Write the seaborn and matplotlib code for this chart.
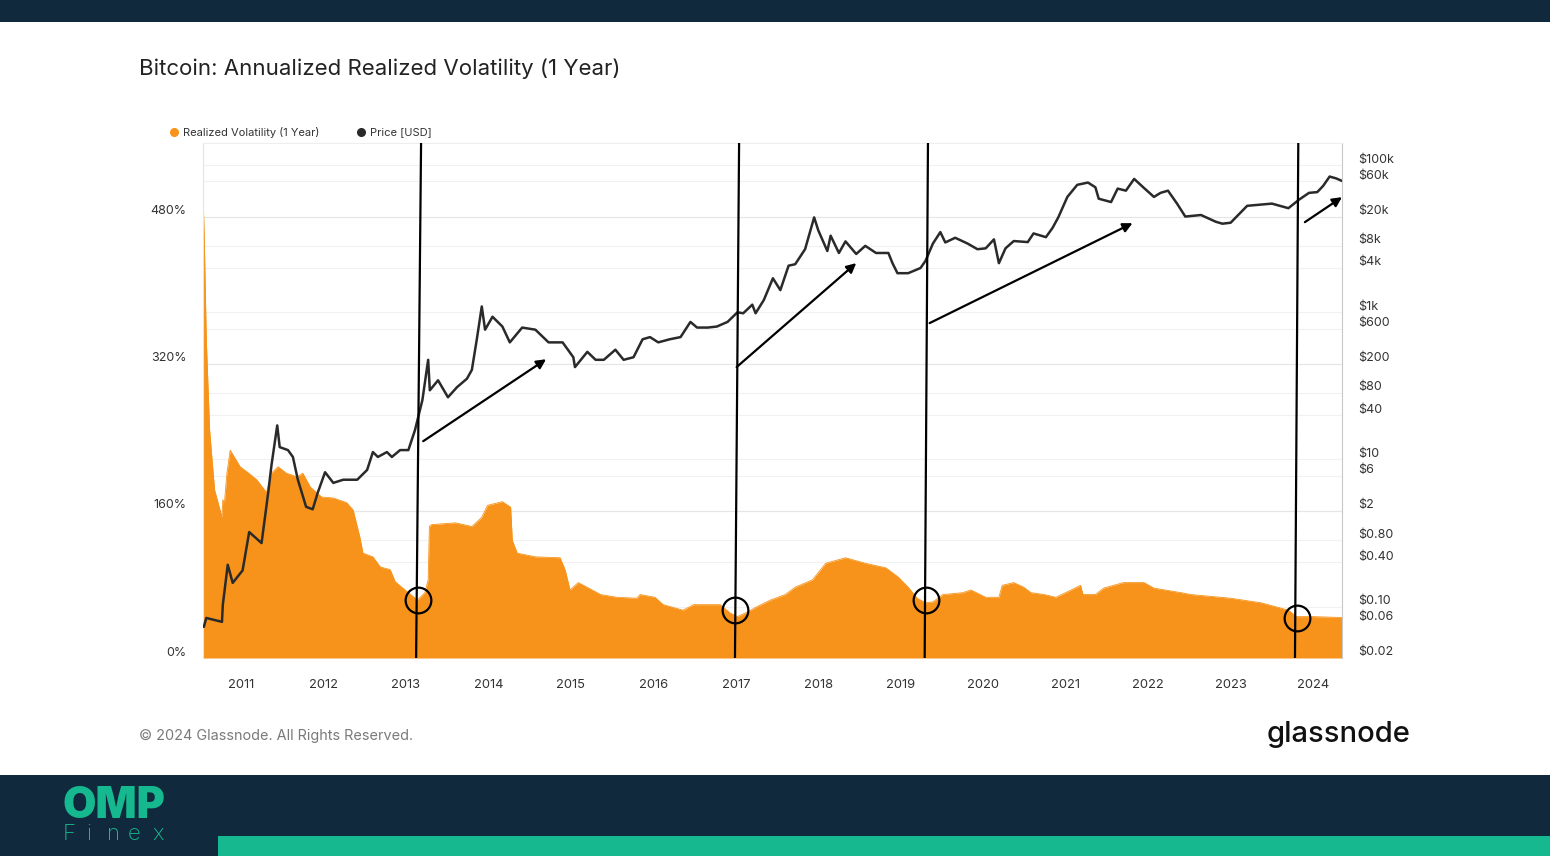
import matplotlib
matplotlib.use('Agg')
import matplotlib.pyplot as plt
import matplotlib.transforms as mtransforms
from matplotlib.lines import Line2D
from matplotlib.patches import Rectangle
from matplotlib.ticker import NullLocator
import seaborn as sns

sns.set_style('white')
plt.rcParams['font.family'] = ['Inter', 'DejaVu Sans']

# realized volatility (1y), decimal year -> percent
vol_year = [2010.54, 2010.555, 2010.58, 2010.62, 2010.68, 2010.77, 2010.78, 2010.80, 2010.83, 2010.87,
            2010.99, 2011.08, 2011.19, 2011.31, 2011.37, 2011.45, 2011.55, 2011.68, 2011.75, 2011.84,
            2011.98, 2012.12, 2012.28, 2012.36, 2012.44, 2012.48, 2012.60, 2012.69, 2012.81, 2012.87,
            2012.99, 2013.14, 2013.23, 2013.27, 2013.285, 2013.31, 2013.60, 2013.80, 2013.92, 2013.99,
            2014.17, 2014.27, 2014.29, 2014.35, 2014.57, 2014.87, 2014.93, 2014.99, 2015.09, 2015.30,
            2015.36, 2015.56, 2015.80, 2015.84, 2016.02, 2016.12, 2016.36, 2016.49, 2016.81, 2016.93,
            2017.02, 2017.14, 2017.26, 2017.42, 2017.60, 2017.72, 2017.93, 2018.09, 2018.33, 2018.57,
            2018.82, 2018.97, 2019.09, 2019.20, 2019.30, 2019.39, 2019.51, 2019.75, 2019.85, 2020.03,
            2020.19, 2020.23, 2020.37, 2020.49, 2020.58, 2020.74, 2020.88, 2021.02, 2021.18, 2021.21,
            2021.36, 2021.46, 2021.70, 2021.95, 2022.07, 2022.40, 2022.52, 2023.00, 2023.37, 2023.70,
            2023.80, 2024.00, 2024.35]
vol_pct = [505, 458, 346, 248, 183, 153, 172, 169, 201, 226,
           208, 202, 194, 180, 201, 208, 201, 197, 201, 186,
           175, 174, 169, 161, 132, 114, 110, 99, 96, 83,
           74, 63, 71, 85, 143, 145, 147, 143, 153, 166,
           170, 164, 128, 114, 110, 109, 96, 74, 82, 72,
           69, 66, 65, 69, 66, 58, 52, 58, 58, 49,
           45, 50, 56, 63, 69, 77, 85, 103, 109, 103,
           98, 88, 77, 65, 60, 61, 69, 71, 74, 66,
           66, 79, 82, 77, 71, 69, 66, 72, 79, 69,
           69, 76, 82, 82, 76, 71, 69, 65, 60, 52,
           45, 45, 44]

# price [USD], log scale
price_year = [2010.55, 2010.58, 2010.77, 2010.78, 2010.84, 2010.90, 2011.02, 2011.10, 2011.25, 2011.33,
              2011.37, 2011.44, 2011.47, 2011.57, 2011.63, 2011.69, 2011.79, 2011.87, 2011.93, 2012.02,
              2012.12, 2012.24, 2012.41, 2012.53, 2012.60, 2012.66, 2012.77, 2012.83, 2012.93, 2013.03,
              2013.11, 2013.20, 2013.27, 2013.29, 2013.39, 2013.51, 2013.62, 2013.74, 2013.80, 2013.86,
              2013.92, 2013.96, 2014.05, 2014.17, 2014.26, 2014.41, 2014.57, 2014.73, 2014.90, 2015.03,
              2015.05, 2015.20, 2015.30, 2015.40, 2015.54, 2015.64, 2015.76, 2015.87, 2015.96, 2016.06,
              2016.20, 2016.33, 2016.45, 2016.53, 2016.66, 2016.77, 2016.90, 2017.02, 2017.09, 2017.20,
              2017.24, 2017.34, 2017.45, 2017.54, 2017.64, 2017.72, 2017.84, 2017.95, 2018.00, 2018.11,
              2018.15, 2018.25, 2018.33, 2018.46, 2018.57, 2018.70, 2018.85, 2018.90, 2018.96, 2019.09,
              2019.24, 2019.30, 2019.39, 2019.48, 2019.54, 2019.66, 2019.81, 2019.93, 2020.03, 2020.13,
              2020.19, 2020.27, 2020.37, 2020.54, 2020.61, 2020.76, 2020.84, 2020.91, 2021.02, 2021.14,
              2021.27, 2021.36, 2021.40, 2021.55, 2021.63, 2021.73, 2021.83, 2021.94, 2022.07, 2022.15,
              2022.24, 2022.35, 2022.45, 2022.64, 2022.82, 2022.90, 2023.00, 2023.20, 2023.50, 2023.70,
              2023.83, 2023.95, 2024.05, 2024.12, 2024.20, 2024.28, 2024.35]
price_usd = [0.053, 0.07, 0.062, 0.105, 0.37, 0.21, 0.31, 1.03, 0.73, 3.5,
             8.3, 29, 14.7, 13.4, 10.8, 5.3, 2.27, 2.1, 3.5, 6.7,
             4.8, 5.3, 5.3, 7.2, 12.6, 10.8, 12.6, 10.8, 13.4, 13.4,
             25, 64, 226, 87, 119, 70, 96, 125, 165, 430,
             1200, 580, 870, 640, 390, 620, 580, 390, 390, 245,
             180, 290, 226, 226, 310, 226, 245, 430, 460, 390,
             430, 460, 740, 620, 620, 640, 740, 1000, 970, 1270,
             970, 1470, 2900, 2000, 4300, 4500, 7200, 19500, 13000, 6800,
             11000, 6400, 9200, 6200, 8000, 6400, 6400, 4650, 3400, 3400,
             4000, 5000, 8600, 12300, 8900, 10300, 8600, 7200, 7400, 9800,
             4650, 7400, 9300, 9000, 11800, 10500, 14000, 19500, 37000, 54000,
             58000, 50000, 35000, 31500, 48000, 45000, 65000, 50000, 37000, 42000,
             45000, 30000, 20000, 21000, 17000, 16000, 16500, 28000, 30000, 26000,
             34000, 42000, 43000, 52000, 70000, 66000, 61000]

year_ticks = list(range(2011, 2025))
vol_ticks = [0, 160, 320, 480]
price_ticks = [0.02, 0.06, 0.1, 0.4, 0.8, 2, 6, 10, 40, 80, 200, 600, 1000, 4000, 8000, 20000, 60000, 100000]
price_labels = ['$0.02', '$0.06', '$0.10', '$0.40', '$0.80', '$2', '$6', '$10', '$40', '$80',
                '$200', '$600', '$1k', '$4k', '$8k', '$20k', '$60k', '$100k']

# hand-drawn annotations: halving lines (top x, bottom x), circles (x, vol), arrows (start, end) in price coords
halving_lines = [(2013.184, 2013.124), (2017.04, 2016.99), (2019.33, 2019.29), (2023.82, 2023.78)]
circles = [(2013.15, 63), (2016.99, 52), (2019.31, 63), (2023.80, 43.5)]
arrows = [((2013.21, 17.7), (2014.70, 230)),
          ((2017.01, 180), (2018.46, 4660)),
          ((2019.35, 713), (2021.81, 16260)),
          ((2023.90, 16800), (2024.35, 36700))]

orange = '#f7931a'
dark = '#2a2a2a'
navy = '#11293d'
teal = '#16b98f'

W, H = 1550, 856
fig = plt.figure(figsize=(W / 100, H / 100), dpi=100)
fig.patch.set_facecolor('white')

# page bands
fig.add_artist(Rectangle((0, 1 - 22 / H), 1, 22 / H, transform=fig.transFigure, color=navy, lw=0))
fig.add_artist(Rectangle((0, 0), 1, 81 / H, transform=fig.transFigure, color=navy, lw=0))
fig.add_artist(Rectangle((218 / W, 0), 1 - 218 / W, 20 / H, transform=fig.transFigure, color=teal, lw=0))

ax = fig.add_axes([203 / W, 1 - 658 / H, (1342 - 203) / W, (658 - 143) / H])
ax2 = ax.twinx()

ax.set_xlim(2010.54, 2024.35)
ax.set_ylim(0, 560)
ax2.set_yscale('log')
ax2.set_ylim(0.02, 200000)

# grid lines (under the area)
blend = mtransforms.blended_transform_factory(ax.transAxes, ax2.transData)
for p in price_ticks:
    ax.plot([0, 1], [p, p], transform=blend, color='#f1f1f1', lw=0.8, zorder=0)
for v in vol_ticks[1:]:
    ax.axhline(v, color='#e6e6e6', lw=0.8, zorder=0)

ax.fill_between(vol_year, vol_pct, 0, color=orange, lw=0, zorder=2)
sns.lineplot(x=vol_year, y=vol_pct, ax=ax, color=orange, lw=0.6, zorder=2)

sns.lineplot(x=price_year, y=price_usd, ax=ax2, color=dark, lw=1.8, zorder=3)

for (xt, xb) in halving_lines:
    ax2.plot([xt, xb], [1, 0], transform=ax2.get_xaxis_transform(), color='black', lw=1.6, zorder=5)
for (cx, cv) in circles:
    ax2.add_line(Line2D([cx], [cv], transform=ax.transData, marker='o', ms=18.5, mfc='none',
                        mec='black', mew=1.6, ls='none', zorder=6))
for (s, e) in arrows:
    ax2.annotate('', xy=e, xytext=s,
                 arrowprops=dict(arrowstyle='-|>', color='black', lw=1.6, mutation_scale=14,
                                 shrinkA=0, shrinkB=0), zorder=6)

ax2.set_xlim(2010.54, 2024.35)
ax2.set_ylim(0.02, 200000)

# ticks
ax.set_xticks(year_ticks, labels=[str(y) for y in year_ticks])
ax.set_yticks(vol_ticks, labels=[f'{v}%' for v in vol_ticks])
ax2.set_yticks(price_ticks, labels=price_labels)
ax2.yaxis.set_minor_locator(NullLocator())
ax.tick_params(axis='x', length=0, pad=15, labelsize=9.3, labelcolor='#333333')
ax.tick_params(axis='y', length=0, pad=12, labelsize=9, labelcolor='#333333')
ax2.tick_params(axis='y', length=0, pad=12, labelsize=9, labelcolor='#333333')
ax.set_xlabel('')
ax.set_ylabel('')
ax2.set_ylabel('')
up = mtransforms.ScaledTranslation(0, 7 / 100, fig.dpi_scale_trans)
for lab in ax.get_yticklabels() + ax2.get_yticklabels():
    lab.set_transform(lab.get_transform() + up)

for sp in ax2.spines.values():
    sp.set_visible(False)
ax.spines['left'].set_color('#e4e4e4')
ax.spines['top'].set_color('#eeeeee')
ax.spines['right'].set_color('#c8c8c8')
ax.spines['bottom'].set_visible(False)
for sp in ax.spines.values():
    sp.set_linewidth(0.8)

# legend
handles = [Line2D([], [], marker='o', ls='none', color=orange, ms=5.5),
           Line2D([], [], marker='o', ls='none', color=dark, ms=5.5)]
fig.legend(handles, ['Realized Volatility (1 Year)', 'Price [USD]'], loc='center left',
           bbox_to_anchor=(170 / W, 1 - 132 / H), ncol=2, frameon=False, fontsize=8,
           handlelength=0.7, handletextpad=0.45, columnspacing=3.4, borderpad=0, borderaxespad=0,
           labelcolor='#333333')

fig.text(139 / W, 1 - 69 / H, 'Bitcoin: Annualized Realized Volatility (1 Year)', fontsize=16,
         color='#222222', va='center')
fig.text(139 / W, 1 - 736 / H, '© 2024 Glassnode. All Rights Reserved.', fontsize=10.4,
         color='#7a7a7a', va='center')
fig.text(1411 / W, 1 - 735 / H, 'glassnode', fontsize=21, weight='medium', color='#111111',
         ha='right', va='center')

# OMP Finex logo
fig.text(62 / W, 1 - 806 / H, 'OMP', fontsize=31, weight='black', color=teal, va='center')
for ch, lx in zip('Finex', [63, 86, 107, 128, 152]):
    fig.text(lx / W, 1 - 834 / H, ch, fontsize=16, weight='light', color=teal, va='center')

fig.savefig('out.png', dpi=100)
